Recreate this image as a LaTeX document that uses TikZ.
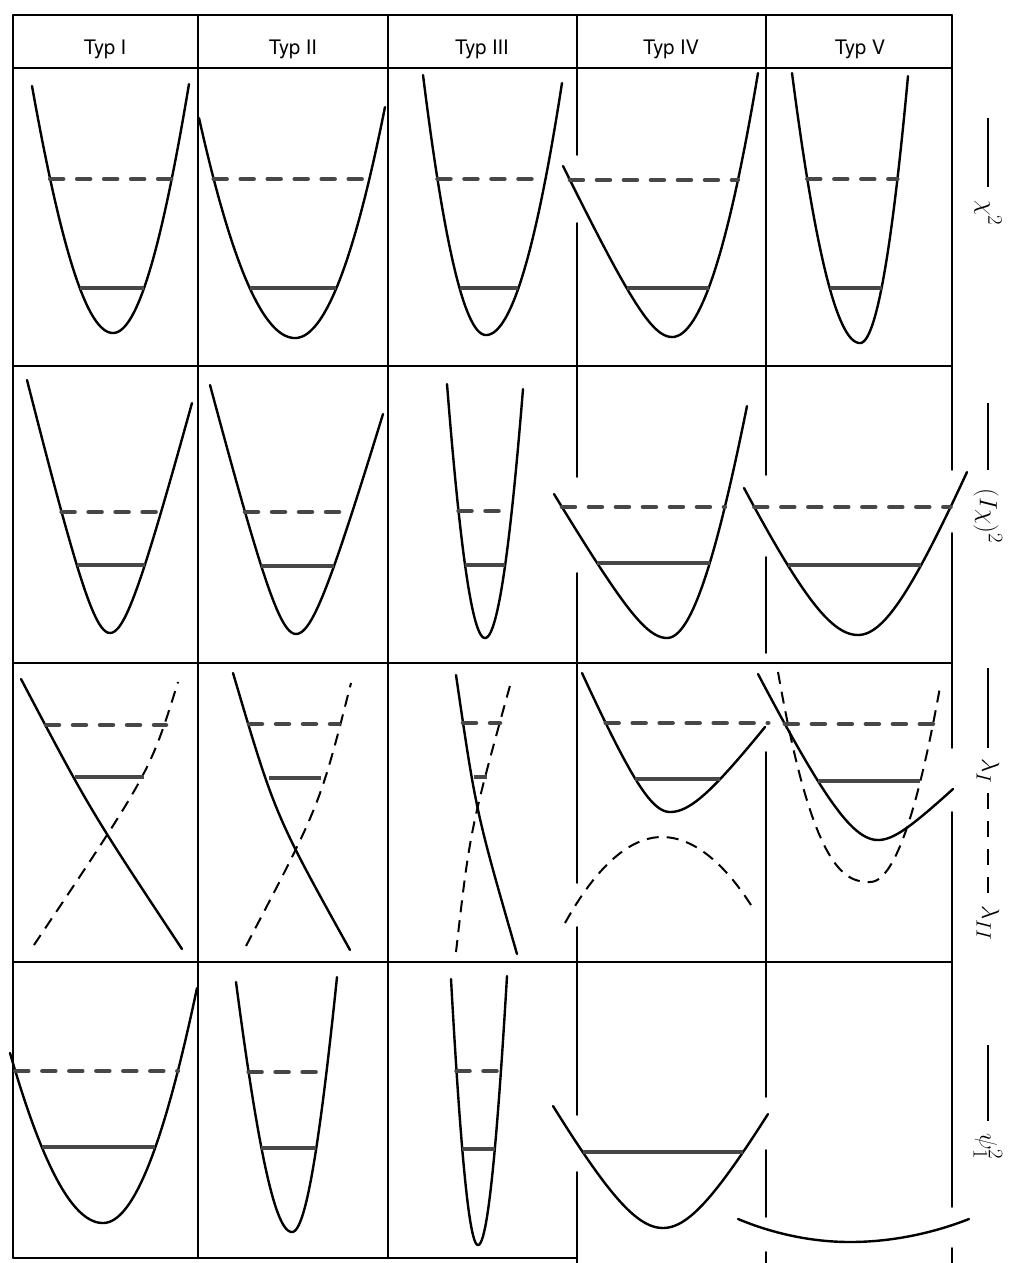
\documentclass[tikz,border=0pt]{standalone}
\usepackage{fontspec}
\newfontfamily\hfont{TeX Gyre Heros}
% potential curve: vertex (#1,#2), left end (#3,#4) roundness #5, right end (#6,#7) roundness #8
\newcommand\potcurve[8]{%
  \xdef\Vx{#1}\xdef\Vy{#2}\xdef\Lx{#3}\xdef\Ly{#4}\xdef\Lc{#5}%
  \xdef\Rx{#6}\xdef\Ry{#7}\xdef\Rc{#8}%
  \draw[curve] plot[domain=1:0,samples=41,variable=\vv]
      ({#1+(#3-#1)*\vv},{#2+(#4-#2)*hf(\vv,#5)})
    -- plot[domain=0:1,samples=41,variable=\vv]
      ({#1+(#6-#1)*\vv},{#2+(#7-#2)*hf(\vv,#8)});}
\newcommand\xat[1]{%
  \pgfmathsetmacro\xa{\Vx+(\Lx-\Vx)*hinv((#1-\Vy)/(\Ly-\Vy),\Lc)}%
  \pgfmathsetmacro\xb{\Vx+(\Rx-\Vx)*hinv((#1-\Vy)/(\Ry-\Vy),\Rc)}}
\newcommand\drawlvl[2]{\xat{#2}\draw[#1] (\xa,#2) -- (\xb,#2);}
\begin{document}
\begin{tikzpicture}[x=1pt,y=-1pt,
  declare function={
    hf(\argu,\argc)=(sqrt(1+(\argu/\argc)^2)-1)/(sqrt(1+1/(\argc*\argc))-1);
    hinv(\argp,\argc)=\argc*sqrt((1+\argp*(sqrt(1+1/(\argc*\argc))-1))^2-1);},
  grid/.style={line width=1.8pt, line cap=round},
  curve/.style={line width=2.4pt, line join=round, line cap=round},
  lvl/.style={line width=4.5pt, black!72},
  dlvl/.style={line width=4.5pt, black!72, line cap=round, dash pattern=on 13pt off 14pt},
  dcurve/.style={line width=2pt, dash pattern=on 12pt off 8pt},
  head/.style={font=\hfont\fontsize{20}{24}\selectfont, anchor=base, inner sep=0pt},
  lab/.style={rotate=-90, anchor=west, inner sep=0pt, font=\fontsize{28}{32}\selectfont},
  legline/.style={line width=2.8pt},
  legdash/.style={line width=2.8pt, dash pattern=on 16pt off 12pt}]
\useasboundingbox (0,0) rectangle (1009,1263);
\fill[white] (0,0) rectangle (1009,1263);

% ---------- table grid ----------
\draw[grid] (13,15) -- (952,15);
\draw[grid] (13,68) -- (952,68);
\draw[grid] (13,366) -- (952,366);
\draw[grid] (13,663) -- (952,663);
\draw[grid] (13,962) -- (952,962);
\draw[grid] (13,1258) -- (577,1258);
\draw[grid] (13,15) -- (13,1258);
\draw[grid] (198,15) -- (198,1258);
\draw[grid] (388,15) -- (388,1258);
\draw[grid] (577,15) -- (577,155) (577,223) -- (577,477) (577,573) -- (577,883)
            (577,927) -- (577,1115) (577,1172) -- (577,1263);
\draw[grid] (766,15) -- (766,475) (766,557) -- (766,653) (766,752) -- (766,1097)
            (766,1150) -- (766,1217) (766,1252) -- (766,1263);
\draw[grid] (952,15) -- (952,470) (952,533) -- (952,748) (952,812) -- (952,1207)
            (952,1248) -- (952,1263);

% ---------- header ----------
\node[head] (h1) at (105,55) {Typ I};
\node[head] (h2) at (293,55) {Typ II};
\node[head] (h3) at (482,55) {Typ III};
\node[head] (h4) at (671,55) {Typ IV};
\node[head] (h5) at (860,55) {Typ V};

% ---------- row 1 : chi^2 ----------
\potcurve{113}{333}{32}{86}{1.5}{189}{84}{1.5}
\drawlvl{dlvl}{179}\drawlvl{lvl}{288}
\potcurve{295}{338}{199}{118}{3}{385}{107}{3}
\drawlvl{dlvl}{179}\drawlvl{lvl}{288}
\potcurve{486}{335}{423}{75}{3}{562}{83}{3}
\drawlvl{dlvl}{179}\drawlvl{lvl}{288}
\potcurve{672}{337}{563}{166}{0.3}{758}{73}{3}
\drawlvl{dlvl}{180}\drawlvl{lvl}{288}
\potcurve{860}{343}{792}{73}{3}{908}{76}{3}
\drawlvl{dlvl}{179}\drawlvl{lvl}{288}

% ---------- row 2 : (I chi)^2 ----------
\potcurve{110}{633}{27}{380}{0.3}{192}{403}{0.3}
\drawlvl{dlvl}{512}\drawlvl{lvl}{565}
\potcurve{296}{634}{210}{385}{0.3}{383}{414}{0.3}
\drawlvl{dlvl}{512}\drawlvl{lvl}{566}
\potcurve{485}{638}{447}{384}{2}{523}{389}{2}
\drawlvl{dlvl}{511}\drawlvl{lvl}{565}
\potcurve{667}{638}{554}{494}{0.3}{747}{406}{1}
\drawlvl{dlvl}{507}\drawlvl{lvl}{563}
\potcurve{858}{635}{744}{488}{0.5}{967}{472}{0.5}
\drawlvl{dlvl}{507}\drawlvl{lvl}{565}

% ---------- row 3 : lambda_I, lambda_II ----------
\draw[curve] (21,679) .. controls (90,810) .. (182,949);
\draw[dcurve] (34,945) .. controls (150,772) .. (178,682);
\draw[dlvl] (46,725) -- (166,725);
\draw[lvl] (75,777) -- (144,777);

\draw[curve] (233,673) .. controls (275,815) .. (350,950);
\draw[dcurve] (246,946) .. controls (320,805) .. (351,683);
\draw[dlvl] (249,724) -- (339,724);
\draw[lvl] (269,778) -- (321,778);

\draw[curve] (456,675) .. controls (476,812) .. (517,954);
\draw[dcurve] (456,952) .. controls (470,830) .. (511,682);
\draw[dlvl] (463,723) -- (500,723);
\draw[lvl] (474,777) -- (487,777);

\potcurve{670}{812}{582}{673}{0.4}{765}{727}{0.4}
\drawlvl{dlvl}{723}\drawlvl{lvl}{779}
\draw[dcurve] (565,923) parabola bend (662,837) (751,905);

\potcurve{878}{840}{758}{674}{0.4}{953}{789}{0.35}
\draw[dcurve] plot[domain=1:0,samples=41,variable=\vv]
    ({870+(778-870)*\vv},{882+(672-882)*\vv^2.5})
  -- plot[domain=0:1,samples=41,variable=\vv]
    ({870+(940-870)*\vv},{882+(687-882)*\vv^2});
\xat{724}\draw[dlvl] (\xa,724) -- (933,724);
\xat{781}\draw[lvl] (\xa,781) -- (920,781);

% ---------- row 4 : psi_1^2 ----------
\potcurve{103}{1223}{10}{1053}{2}{197}{988}{2}
\drawlvl{dlvl}{1071}\drawlvl{lvl}{1147}
\potcurve{292}{1232}{236}{982}{1}{337}{977}{1}
\drawlvl{dlvl}{1072}\drawlvl{lvl}{1148}
\potcurve{478}{1245}{451}{979}{1.5}{507}{976}{1.5}
\drawlvl{dlvl}{1071}\drawlvl{lvl}{1149}
\potcurve{663}{1228}{553}{1106}{0.5}{768}{1114}{0.5}
\drawlvl{lvl}{1152}
\draw[curve] (738,1219) parabola bend (850,1242) (969,1219);

% ---------- right-hand legend ----------
\node[lab] (lchi) at (988,200) {$\chi^2$};
\node[lab] (lich) at (988,488) {$(I\chi)^2$};
\node[lab] (llI) at (988,758) {$\lambda_I$};
\node[lab] (llII) at (988,905) {$\lambda_{II}$};
\node[lab] (lpsi) at (988,1133) {$\psi_1^2$};
\coordinate (s1) at (988,118);
\coordinate (s2) at (988,403);
\coordinate (s3) at (988,668);
\coordinate (s4) at (988,1045);
\coordinate (d1) at (988,793);
\coordinate (d2) at (988,893);
\draw[legline, shorten >=13pt] (s1) -- (lchi.west);
\draw[legline, shorten >=18pt] (s2) -- (lich.west);
\draw[legline, shorten >=10pt] (s3) -- (llI.west);
\draw[legdash] (d1) -- (d2);
\draw[legline, shorten >=12pt] (s4) -- (lpsi.west);
\end{tikzpicture}
\end{document}
